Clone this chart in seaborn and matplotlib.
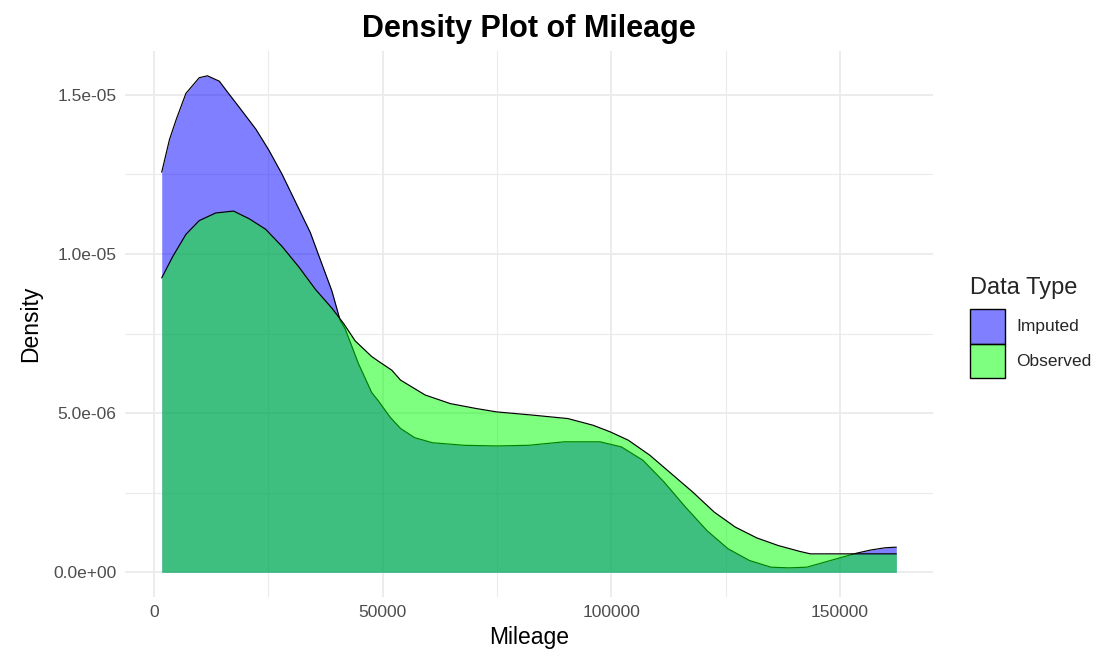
import numpy as np
import pandas as pd
import matplotlib
matplotlib.use("Agg")
import matplotlib.pyplot as plt
from matplotlib.patches import Patch
from matplotlib.ticker import FixedLocator
import seaborn as sns

# ---- data (density values in units of 1e-6) ----
imputed_mileage = [1700, 3400, 4900, 7000, 9900, 11700, 14300, 15700, 18600, 22300,
                   25100, 28000, 30900, 34200, 36400, 38900, 40700, 41800, 44700, 47600,
                   49200, 51600, 53900, 57000, 60900, 67900, 74900, 81900, 89700, 97500,
                   102200, 106900, 111500, 116200, 120900, 125500, 130200, 134900, 138800,
                   142700, 147400, 153600, 156700, 159800, 162300]
imputed_density = [12.57, 13.6, 14.24, 15.05, 15.54, 15.6, 15.43, 15.16, 14.62, 13.92,
                   13.27, 12.51, 11.65, 10.67, 9.81, 8.84, 7.92, 7.65, 6.56, 5.65,
                   5.36, 4.88, 4.52, 4.23, 4.07, 3.99, 3.97, 3.99, 4.10, 4.10,
                   3.94, 3.52, 2.84, 2.05, 1.31, 0.74, 0.37, 0.16, 0.14,
                   0.16, 0.35, 0.60, 0.70, 0.77, 0.79]

observed_mileage = [1700, 4100, 7000, 9900, 13500, 17400, 20800, 24400, 28000, 31700,
                    35300, 38900, 41500, 44000, 47600, 49200, 52000, 53900, 59300, 64800,
                    70300, 74900, 82700, 90500, 96000, 99800, 103700, 108400, 113100, 117800,
                    122500, 127100, 131800, 136500, 141100, 143500, 153600, 162300]
observed_density = [9.25, 9.92, 10.62, 11.05, 11.29, 11.35, 11.11, 10.78, 10.24, 9.59,
                    8.89, 8.30, 7.81, 7.27, 6.78, 6.62, 6.35, 6.04, 5.57, 5.30,
                    5.15, 5.04, 4.94, 4.83, 4.62, 4.41, 4.15, 3.68, 3.10, 2.52,
                    1.89, 1.42, 1.08, 0.84, 0.66, 0.58, 0.58, 0.58]

series_names = ["Imputed", "Observed"]
series_colors = ["#0000FF", "#00FF00"]

y_ticks = [0.0, 5e-6, 1e-5, 1.5e-5]
y_tick_labels = ["0.0e+00", "5.0e-06", "1.0e-05", "1.5e-05"]
x_ticks = [0, 50000, 100000, 150000]
x_tick_labels = ["0", "50000", "100000", "150000"]

frames = []
for name, xs, ys in [("Imputed", imputed_mileage, imputed_density),
                     ("Observed", observed_mileage, observed_density)]:
    frames.append(pd.DataFrame({"Mileage": xs,
                                "Density": np.array(ys) * 1e-6,
                                "Data Type": name}))
df = pd.concat(frames, ignore_index=True)

sns.set_theme(style="white")
plt.rcParams["font.family"] = ["Liberation Sans", "DejaVu Sans"]

fig = plt.figure(figsize=(11.1, 6.62), dpi=100)
ax = fig.add_axes([0.1126, 0.098, 0.728, 0.825])

for i, (name, col) in enumerate(zip(series_names, series_colors)):
    d = df[df["Data Type"] == name]
    ax.fill_between(d["Mileage"], 0, d["Density"], color=col, alpha=0.5,
                    linewidth=0, zorder=2 + 2 * i)
    sns.lineplot(data=d, x="Mileage", y="Density", color="black", linewidth=0.85,
                 sort=False, ax=ax, zorder=3 + 2 * i, legend=False)

xmin, xmax = min(imputed_mileage + observed_mileage), max(imputed_mileage + observed_mileage)
xr = xmax - xmin
ax.set_xlim(xmin - 0.05 * xr, xmax + 0.05 * xr)
ymax = max(imputed_density + observed_density) * 1e-6
ax.set_ylim(-0.05 * ymax, ymax * 1.05)

ax.set_xticks(x_ticks)
ax.set_xticklabels(x_tick_labels)
ax.set_yticks(y_ticks)
ax.set_yticklabels(y_tick_labels)
ax.xaxis.set_minor_locator(FixedLocator([25000, 75000, 125000]))
ax.yaxis.set_minor_locator(FixedLocator([2.5e-6, 7.5e-6, 1.25e-5]))
ax.grid(True, which="major", color="#EBEBEB", linewidth=1.3, zorder=0)
ax.grid(True, which="minor", color="#EBEBEB", linewidth=0.8, zorder=0)
ax.set_axisbelow(True)
for s in ax.spines.values():
    s.set_visible(False)
ax.tick_params(axis="both", which="both", length=0, labelsize=12.5,
               labelcolor="#4D4D4D", pad=6)

ax.set_xlabel("Mileage", fontsize=16.5, color="black", labelpad=4)
ax.set_ylabel("Density", fontsize=16.5, color="black", labelpad=8)
ax.set_title("Density Plot of Mileage", fontsize=22, fontweight="bold",
             color="black", pad=10)

handles = [Patch(facecolor=(0, 0, 1, 0.5), edgecolor="black", linewidth=1.0),
           Patch(facecolor=(0, 1, 0, 0.5), edgecolor="black", linewidth=1.0)]
leg = fig.legend(handles, series_names, title="Data Type", loc="center left",
                 bbox_to_anchor=(0.8676, 0.505), frameon=False, fontsize=12.5,
                 title_fontsize=17, handlelength=2.0, handleheight=2.7,
                 labelspacing=0.0, handletextpad=0.65, borderaxespad=0)
leg._legend_box.align = "left"
leg._legend_box.sep = 7

fig.savefig("out.png", dpi=100)
